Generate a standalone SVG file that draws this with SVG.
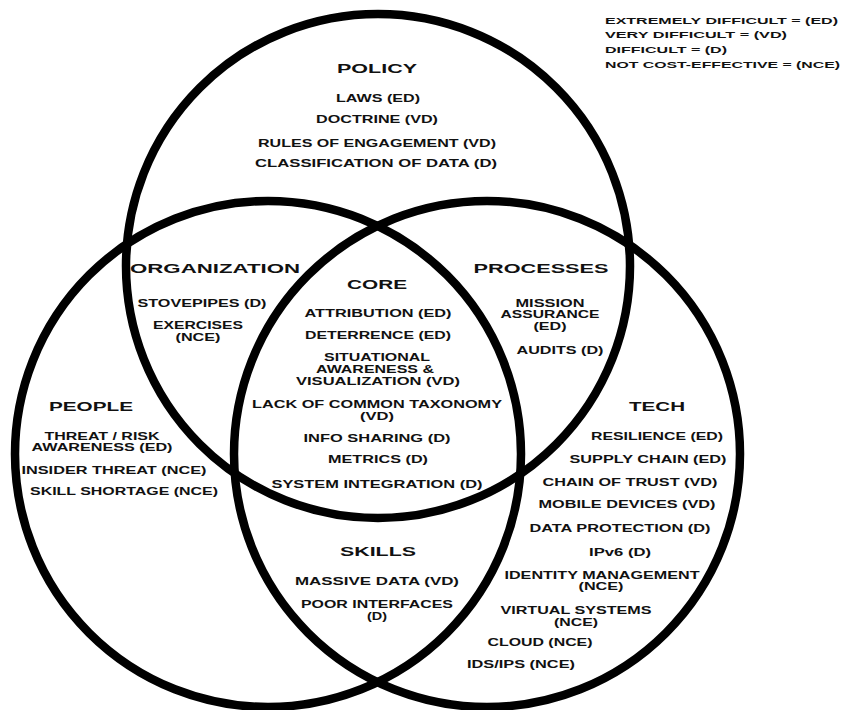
<svg xmlns="http://www.w3.org/2000/svg" width="845" height="710" viewBox="0 0 845 710">
<style>
.c{fill:none;stroke:#000;stroke-width:8.5}
text{font-family:"Liberation Sans",Arial,sans-serif;font-weight:bold;fill:#111}
.h{font-size:13.5px;text-anchor:middle}
.b{font-size:10.5px;text-anchor:middle}
.l{font-size:9.5px;text-anchor:start}
</style>
<rect width="845" height="710" fill="#fff"/>
<g id="circles">
<circle class="c" cx="378" cy="266" r="252"/>
<circle class="c" cx="268" cy="454" r="253"/>
<circle class="c" cx="487" cy="454" r="253"/>
</g>
<g id="legend">
<text class="l" x="605" y="24.2" textLength="233" lengthAdjust="spacingAndGlyphs">EXTREMELY DIFFICULT = (ED)</text>
<text class="l" x="605" y="37.5" textLength="182" lengthAdjust="spacingAndGlyphs">VERY DIFFICULT = (VD)</text>
<text class="l" x="605" y="52.5" textLength="122" lengthAdjust="spacingAndGlyphs">DIFFICULT = (D)</text>
<text class="l" x="605" y="67.5" textLength="235" lengthAdjust="spacingAndGlyphs">NOT COST-EFFECTIVE = (NCE)</text>
</g>
<g id="policy">
<text class="h" x="377" y="72.8" textLength="80" lengthAdjust="spacingAndGlyphs">POLICY</text>
<text class="b" x="378" y="101.8" textLength="84" lengthAdjust="spacingAndGlyphs">LAWS (ED)</text>
<text class="b" x="377" y="122.8" textLength="122" lengthAdjust="spacingAndGlyphs">DOCTRINE (VD)</text>
<text class="b" x="377" y="146.8" textLength="238" lengthAdjust="spacingAndGlyphs">RULES OF ENGAGEMENT (VD)</text>
<text class="b" x="376" y="166.8" textLength="242" lengthAdjust="spacingAndGlyphs">CLASSIFICATION OF DATA (D)</text>
</g>
<g id="organization">
<text class="h" x="215" y="272.8" textLength="170" lengthAdjust="spacingAndGlyphs">ORGANIZATION</text>
<text class="b" x="202" y="306.8" textLength="129" lengthAdjust="spacingAndGlyphs">STOVEPIPES (D)</text>
<text class="b" x="198" y="328.8" textLength="90" lengthAdjust="spacingAndGlyphs">EXERCISES</text>
<text class="b" x="198" y="340.8" textLength="45" lengthAdjust="spacingAndGlyphs">(NCE)</text>
</g>
<g id="processes">
<text class="h" x="541" y="272.8" textLength="135" lengthAdjust="spacingAndGlyphs">PROCESSES</text>
<text class="b" x="550" y="306.8" textLength="69" lengthAdjust="spacingAndGlyphs">MISSION</text>
<text class="b" x="550" y="317.8" textLength="99" lengthAdjust="spacingAndGlyphs">ASSURANCE</text>
<text class="b" x="550" y="329.8" textLength="33" lengthAdjust="spacingAndGlyphs">(ED)</text>
<text class="b" x="560" y="353.8" textLength="87" lengthAdjust="spacingAndGlyphs">AUDITS (D)</text>
</g>
<g id="core">
<text class="h" x="377" y="289.4" textLength="60" lengthAdjust="spacingAndGlyphs">CORE</text>
<text class="b" x="378" y="316.8" textLength="147" lengthAdjust="spacingAndGlyphs">ATTRIBUTION (ED)</text>
<text class="b" x="378" y="338.8" textLength="146" lengthAdjust="spacingAndGlyphs">DETERRENCE (ED)</text>
<text class="b" x="377" y="360.8" textLength="106" lengthAdjust="spacingAndGlyphs">SITUATIONAL</text>
<text class="b" x="375" y="372.8" textLength="118" lengthAdjust="spacingAndGlyphs">AWARENESS &amp;</text>
<text class="b" x="378" y="384.8" textLength="164" lengthAdjust="spacingAndGlyphs">VISUALIZATION (VD)</text>
<text class="b" x="377" y="407.8" textLength="250" lengthAdjust="spacingAndGlyphs">LACK OF COMMON TAXONOMY</text>
<text class="b" x="377" y="419.8" textLength="34" lengthAdjust="spacingAndGlyphs">(VD)</text>
<text class="b" x="377" y="441.8" textLength="147" lengthAdjust="spacingAndGlyphs">INFO SHARING (D)</text>
<text class="b" x="378" y="462.8" textLength="100" lengthAdjust="spacingAndGlyphs">METRICS (D)</text>
<text class="b" x="377" y="487.8" textLength="211" lengthAdjust="spacingAndGlyphs">SYSTEM INTEGRATION (D)</text>
</g>
<g id="people">
<text class="h" x="91" y="410.8" textLength="84" lengthAdjust="spacingAndGlyphs">PEOPLE</text>
<text class="b" x="102" y="439.8" textLength="115" lengthAdjust="spacingAndGlyphs">THREAT / RISK</text>
<text class="b" x="102" y="450.8" textLength="141" lengthAdjust="spacingAndGlyphs">AWARENESS (ED)</text>
<text class="b" x="114" y="473.8" textLength="185" lengthAdjust="spacingAndGlyphs">INSIDER THREAT (NCE)</text>
<text class="b" x="124" y="494.8" textLength="188" lengthAdjust="spacingAndGlyphs">SKILL SHORTAGE (NCE)</text>
</g>
<g id="skills">
<text class="h" x="378" y="555.8" textLength="76" lengthAdjust="spacingAndGlyphs">SKILLS</text>
<text class="b" x="377" y="584.8" textLength="164" lengthAdjust="spacingAndGlyphs">MASSIVE DATA (VD)</text>
<text class="b" x="377" y="607.8" textLength="152" lengthAdjust="spacingAndGlyphs">POOR INTERFACES</text>
<text class="b" x="377" y="619.8" textLength="20" lengthAdjust="spacingAndGlyphs">(D)</text>
</g>
<g id="tech">
<text class="h" x="657" y="410.8" textLength="56" lengthAdjust="spacingAndGlyphs">TECH</text>
<text class="b" x="657" y="439.8" textLength="132" lengthAdjust="spacingAndGlyphs">RESILIENCE (ED)</text>
<text class="b" x="648" y="462.8" textLength="157" lengthAdjust="spacingAndGlyphs">SUPPLY CHAIN (ED)</text>
<text class="b" x="630" y="485.8" textLength="175" lengthAdjust="spacingAndGlyphs">CHAIN OF TRUST (VD)</text>
<text class="b" x="627" y="507.8" textLength="177" lengthAdjust="spacingAndGlyphs">MOBILE DEVICES (VD)</text>
<text class="b" x="620" y="531.8" textLength="181" lengthAdjust="spacingAndGlyphs">DATA PROTECTION (D)</text>
<text class="b" x="620" y="555.8" textLength="62" lengthAdjust="spacingAndGlyphs">IPv6 (D)</text>
<text class="b" x="602" y="578.8" textLength="195" lengthAdjust="spacingAndGlyphs">IDENTITY MANAGEMENT</text>
<text class="b" x="601" y="589.8" textLength="45" lengthAdjust="spacingAndGlyphs">(NCE)</text>
<text class="b" x="576" y="613.8" textLength="151" lengthAdjust="spacingAndGlyphs">VIRTUAL SYSTEMS</text>
<text class="b" x="576" y="625.8" textLength="44" lengthAdjust="spacingAndGlyphs">(NCE)</text>
<text class="b" x="540" y="645.8" textLength="105" lengthAdjust="spacingAndGlyphs">CLOUD (NCE)</text>
<text class="b" x="521" y="667.8" textLength="108" lengthAdjust="spacingAndGlyphs">IDS/IPS (NCE)</text>
</g>
</svg>
